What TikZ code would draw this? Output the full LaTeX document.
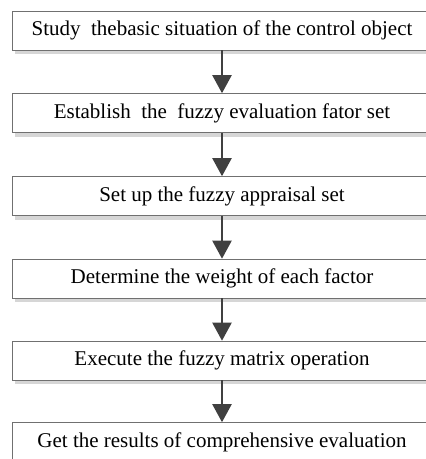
\documentclass[tikz,border=0pt]{standalone}
\usepackage{fontspec}
\setmainfont{Liberation Serif}
\usepackage{xcolor}
\usetikzlibrary{arrows.meta,shadows}
\definecolor{boxLine}{HTML}{707070}
\definecolor{arrowColor}{HTML}{404040}

\begin{document}
\begin{tikzpicture}[x=1pt,y=1pt,
procBox/.style={shape=rectangle,draw=boxLine,fill=white,semithick,
    minimum width=420pt,minimum height=39pt,inner sep=0,font=\fontsize{21}{24}\selectfont,
    drop shadow={shadow xshift=3pt,shadow yshift=-4pt,fill=black!16,opacity=1}},
myarrow/.style={-{Triangle[length=18pt,width=19pt]},line width=2.2pt,draw=arrowColor,fill=arrowColor}
]
\useasboundingbox (0,0) rectangle (426,-459);
\clip (0,0) rectangle (426,-459);
\node[procBox] (s1) at (222,-30.5) {Study\ \ thebasic situation of the control object};
\node[procBox] (s2) at (222,-113) {Establish\ \ the\ \ fuzzy evaluation fator set};
\node[procBox] (s3) at (222,-196) {Set up the fuzzy appraisal set};
\node[procBox] (s4) at (222,-278.5) {Determine the weight of each factor};
\node[procBox] (s5) at (222,-360.5) {Execute the fuzzy matrix operation};
\node[procBox] (s6) at (222,-442) {Get the results of comprehensive evaluation};
\draw[myarrow] (s1) -- (s2);
\draw[myarrow] (s2) -- (s3);
\draw[myarrow] (s3) -- (s4);
\draw[myarrow] (s4) -- (s5);
\draw[myarrow] (s5) -- (s6);
\end{tikzpicture}
\end{document}
